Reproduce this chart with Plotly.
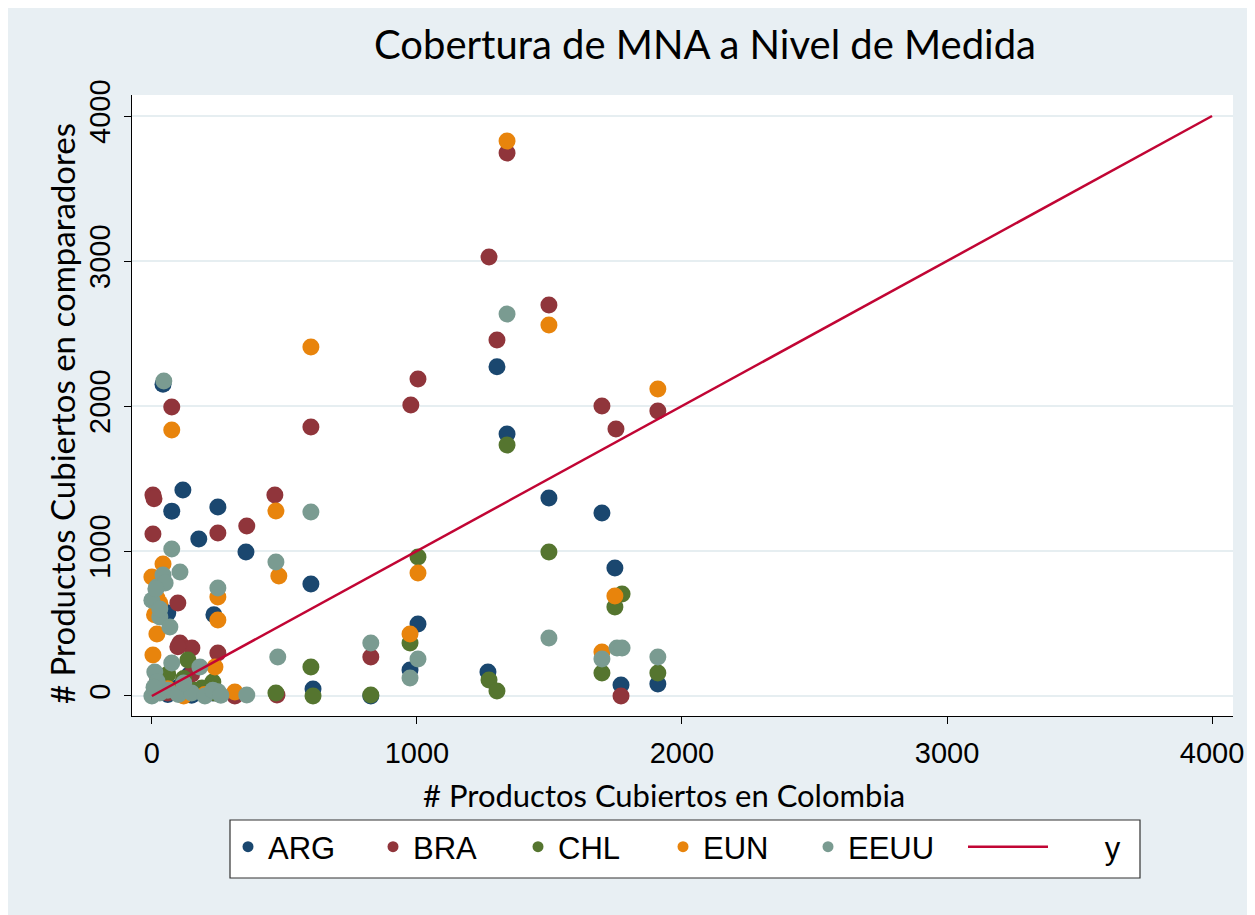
import plotly.graph_objects as go

# ---- data ----
arg_x = [42, 117, 75, 177, 249, 355, 600, 234, 1004, 974, 608, 826, 140, 42, 60, 1302, 1340, 1498, 1698, 1747, 1268, 1770, 1909, 10, 60, 150, 230, 100]
arg_y = [2150, 1420, 1275, 1083, 1303, 993, 772, 560, 497, 180, 48, 0, 145, 586, 572, 2270, 1807, 1365, 1262, 883, 166, 76, 83, 30, 10, 5, 20, 60]

bra_x = [75, 600, 1004, 977, 4, 8, 4, 249, 358, 464, 98, 106, 151, 249, 826, 472, 1272, 1340, 1498, 1302, 1698, 1751, 1909, 1770, 313, 20, 60, 200, 150, 98]
bra_y = [1993, 1855, 2186, 2007, 1386, 1360, 1117, 1124, 1172, 1386, 641, 365, 331, 296, 269, 7, 3028, 3745, 2697, 2455, 2000, 1841, 1966, 0, 0, 100, 20, 50, 150, 340]

chl_x = [1340, 1498, 1004, 1774, 1747, 1698, 1909, 1272, 1302, 974, 600, 608, 826, 468, 136, 230, 189, 238, 15, 100, 160, 60, 120]
chl_y = [1731, 993, 959, 703, 614, 159, 159, 110, 34, 365, 200, 0, 7, 20, 248, 97, 55, 20, 60, 30, 40, 150, 120]

eun_x = [1340, 600, 1498, 1909, 75, 468, 479, 1004, 249, 249, 974, 1747, 1698, 0, 42, 19, 19, 4, 238, 313, 60, 120, 30, 200, 10, 30]
eun_y = [3828, 2407, 2559, 2117, 1834, 1276, 828, 848, 683, 524, 428, 690, 303, 820, 910, 676, 428, 283, 200, 28, 50, 0, 30, 10, 560, 640]

eeuu_x = [45, 1340, 600, 75, 249, 468, 106, 475, 1004, 826, 974, 1498, 1698, 1755, 1774, 1909, 358, 19, 42, 30, 68, 11, 75, 181, 0, 30, 60, 100, 150, 200, 250, 20, 8, 120, 230, 260, 0, 30, 50, 15]
eeuu_y = [2172, 2634, 1269, 1014, 745, 924, 855, 269, 255, 365, 124, 400, 255, 331, 331, 269, 7, 752, 834, 545, 476, 165, 228, 200, 0, 20, 40, 10, 20, 0, 30, 100, 60, 90, 40, 5, 660, 600, 780, 740]

line_x = [0, 4000]
line_y = [0, 4000]

series = [
    ("ARG", arg_x, arg_y, "#1a476f"),
    ("BRA", bra_x, bra_y, "#90353b"),
    ("CHL", chl_x, chl_y, "#55752f"),
    ("EUN", eun_x, eun_y, "#e8840c"),
    ("EEUU", eeuu_x, eeuu_y, "#7a9b91"),
]

fig = go.Figure()
for name, xs, ys, col in series:
    fig.add_trace(go.Scatter(x=xs, y=ys, mode="markers", name=name, showlegend=False,
                             marker=dict(size=17, color=col, line=dict(width=0))))
fig.add_trace(go.Scatter(x=line_x, y=line_y, mode="lines", name="y", showlegend=False,
                         line=dict(color="#c10534", width=2.5)))
# legend entries
for name, xs, ys, col in series:
    fig.add_trace(go.Scatter(x=[None], y=[None], mode="markers", name=name,
                             marker=dict(size=11, color=col), legend="legend"))
fig.add_trace(go.Scatter(x=[None], y=[None], mode="lines", name="\u00a0" * 6 + "y",
                         line=dict(color="#c10534", width=2.5), legend="legend2"))

# plot-area pixel helpers (figure px)
L, R, T, B = 124, 30, 87, 207
PW, PH = 1255 - L - R, 915 - T - B
def px(xf):
    return (xf - L) / PW
def py(yf):
    return (915 - B - yf) / PH

bg = "#e8eff3"
leg_font = dict(family="Liberation Sans", size=31, color="black")
fig.update_layout(
    width=1255, height=915,
    paper_bgcolor=bg, plot_bgcolor="white",
    margin=dict(l=L, r=R, t=T, b=B),
    title=dict(text="Cobertura de MNA a Nivel de Medida", x=697/1255, xanchor="center",
               y=1-37/915, yanchor="middle", yref="container",
               font=dict(family="Lato", size=40, color="black")),
    font=dict(family="Liberation Sans", color="black"),
    legend=dict(orientation="h", x=px(220), xanchor="left", y=py(812), yanchor="top",
                bgcolor="rgba(255,255,255,0)", borderwidth=0,
                font=leg_font, entrywidth=100, itemwidth=30),
    legend2=dict(orientation="h", x=px(955), xanchor="left", y=py(812), yanchor="top",
                 bgcolor="rgba(255,255,255,0)", borderwidth=0,
                 font=leg_font, itemwidth=80),
    shapes=[dict(type="rect", xref="paper", yref="paper",
                 x0=px(222), x1=px(1132), y0=py(870), y1=py(812),
                 fillcolor="white", line=dict(color="#333333", width=1.2), layer="below")],
    xaxis=dict(range=[-75, 4079], tickvals=[0, 1000, 2000, 3000, 4000], showgrid=False,
               zeroline=False, showline=True, linecolor="black", linewidth=1,
               ticks="outside", ticklen=7, tickcolor="black",
               tickfont=dict(family="Liberation Sans", size=29), ticklabelstandoff=4),
    yaxis=dict(range=[-138, 4145], tickvals=[0, 1000, 2000, 3000, 4000], showgrid=True,
               gridcolor="#e6eef1", gridwidth=1.5, zeroline=False, showline=True,
               linecolor="black", linewidth=1, ticks="outside", ticklen=7, tickcolor="black",
               tickangle=-90, tickfont=dict(family="Liberation Sans", size=29),
               ticklabelstandoff=2),
    annotations=[
        dict(text="# Productos Cubiertos en Colombia", xref="paper", yref="paper",
             x=(664-132)/1101, y=(716-795)/621, xanchor="center", yanchor="middle",
             showarrow=False, font=dict(family="Lato", size=31, color="black")),
        dict(text="# Productos Cubiertos en comparadores", xref="paper", yref="paper",
             x=(62-132)/1101, y=(716-414)/621, xanchor="center", yanchor="middle",
             textangle=-90, showarrow=False, font=dict(family="Lato", size=33, color="black")),
    ],
)
fig.write_html("out.html")
